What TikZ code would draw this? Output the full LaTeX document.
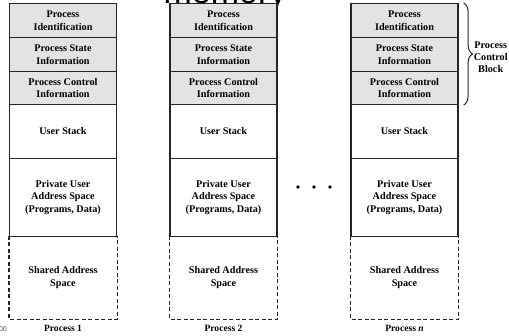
\documentclass[tikz,border=0pt]{standalone}
\usepackage{fontspec}
\setmainfont{Liberation Serif}
\newfontfamily\titlefont{Liberation Sans}
\usepackage{tikz}
\usetikzlibrary{decorations.pathreplacing}

\tikzset{
    cell/.style={draw=black!85, line width=1.2pt, minimum width=107pt, inner sep=1pt,
        align=center, font=\bfseries\fontsize{10.2}{12.8}\selectfont},
    pcb/.style={cell, fill=gray!22},
    plain/.style={cell, draw=none}
}

\begin{document}
\begin{tikzpicture}[x=1pt, y=-1pt]
    \useasboundingbox (0,0) rectangle (509,335);
    \clip (0,0) rectangle (509,335);
    % cut-off heading
    \node[anchor=base, font=\titlefont\fontsize{34}{34}\selectfont, inner sep=0] (title) at (225,3.5) {memory};
    \node[anchor=base east, font=\titlefont\fontsize{7}{7}\selectfont, inner sep=0, text=black!70] (note) at (7,331) {00};
    % the process images
    \foreach \cx/\id/\lbl in {63/a/1, 223.5/b/2, 404.5/n/{\textit{n}}} {
        \node[pcb, minimum height=34pt] (pi\id) at (\cx,20.5) {Process\\Identification};
        \node[pcb, minimum height=34pt] (ps\id) at (\cx,54.5) {Process State\\Information};
        \node[pcb, minimum height=33pt] (pc\id) at (\cx,88) {Process Control\\Information};
        \node[cell, minimum height=54pt] (us\id) at (\cx,131.5) {User Stack};
        \node[cell, minimum height=78pt] (pu\id) at (\cx,197.5) {Private User\\Address Space\\(Programs, Data)};
        \node[plain, minimum height=82pt] (sa\id) at (\cx,277.5) {Shared Address\\Space};
        \draw[black!85, line width=1.2pt, dash pattern=on 4pt off 2.5pt]
            (sa\id.north west) -- (sa\id.south west) -- (sa\id.south east) -- (sa\id.north east);
        \node[font=\bfseries\fontsize{9.6}{11}\selectfont] (lb\id) at (\cx,328) {Process \lbl};
    }
    % dots between process 2 and process n
    \foreach \dx in {298,314,330}
        \fill (\dx,187) circle (1.9pt);
    % brace for the process control block
    \draw[black!85, line width=1pt, decorate, decoration={brace, amplitude=9pt}]
        ([xshift=5pt]pin.north east) -- ([xshift=5pt]pcn.south east)
        coordinate[midway, xshift=9pt] (tip);
    \node[anchor=west, inner sep=1pt, align=center, font=\bfseries\fontsize{10.2}{12}\selectfont] (blk) at ([yshift=-3pt]tip) {Process\\Control\\Block};
\end{tikzpicture}
\end{document}
